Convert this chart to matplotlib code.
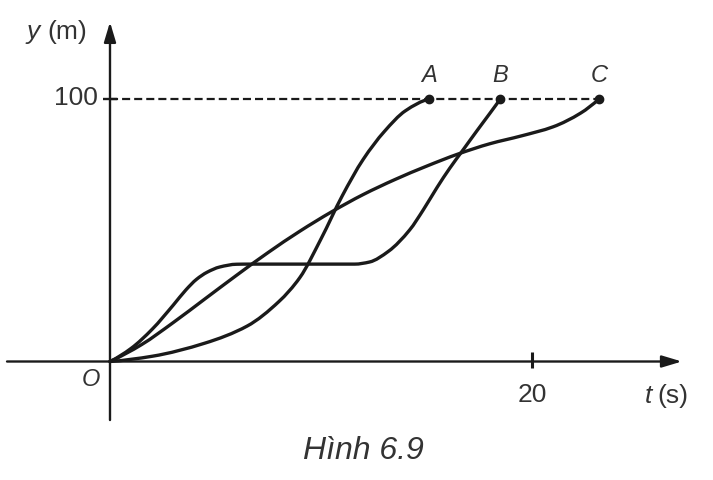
import matplotlib
matplotlib.use("Agg")
import matplotlib.pyplot as plt
import numpy as np
from matplotlib.path import Path
from matplotlib.patches import PathPatch

plt.rcParams['font.family'] = ['Liberation Sans', 'DejaVu Sans']
plt.rcParams['lines.scale_dashes'] = False

# Curve A (t in s, y in m)
tA = [0, 2.0, 4.5, 6.5, 8.0, 9.0, 10.0, 11.0, 12.0, 13.0, 14.0, 15.12]
yA = [0, 2.0, 7.0, 13.5, 22.8, 32.0, 46.7, 63.0, 77.0, 87.6, 95.5, 100]

# Curve B
tB = [0, 1.0, 2.0, 3.0, 3.6, 4.1, 4.6, 5.2, 6.0, 6.6, 11.6, 12.3, 13.2,
      14.2, 14.85, 15.5, 16.1, 16.75, 17.4, 18.0, 18.5]
yB = [0, 5.0, 12.3, 21.5, 27.3, 31.3, 34.0, 36.0, 37.05, 37.1, 37.1, 37.9,
      42.0, 50.1, 57.8, 66.3, 73.6, 80.8, 88.0, 94.5, 100]

# Curve C
tC = [0, 1.5, 3.0, 4.5, 6.0, 7.5, 9.0, 10.5, 12.0, 13.5, 15.0, 16.5,
      18.0, 19.5, 21.0, 22.3, 23.18]
yC = [0, 6.45, 14.85, 23.85, 32.85, 41.55, 49.65, 57.0, 63.6, 69.3, 74.4,
      79.05, 82.95, 85.95, 89.4, 94.6, 100]

end_labels = ['A', 'B', 'C']
y_target = 100
x_tick = 20


def pchip_slopes(x, y):
    x = np.asarray(x, float)
    y = np.asarray(y, float)
    h = np.diff(x)
    d = np.diff(y) / h
    n = len(x)
    m = np.zeros(n)
    for k in range(1, n - 1):
        if d[k - 1] * d[k] > 0:
            w1 = 2 * h[k] + h[k - 1]
            w2 = h[k] + 2 * h[k - 1]
            m[k] = (w1 + w2) / (w1 / d[k - 1] + w2 / d[k])

    def end(h0, h1, d0, d1):
        s = ((2 * h0 + h1) * d0 - h0 * d1) / (h0 + h1)
        if np.sign(s) != np.sign(d0):
            return 0.0
        if np.sign(d0) != np.sign(d1) and abs(s) > 3 * abs(d0):
            return 3 * d0
        return s

    m[0] = end(h[0], h[1], d[0], d[1])
    m[-1] = end(h[-1], h[-2], d[-1], d[-2])
    return m


def smooth_path(x, y):
    m = pchip_slopes(x, y)
    verts = [(x[0], y[0])]
    codes = [Path.MOVETO]
    for k in range(len(x) - 1):
        h = x[k + 1] - x[k]
        verts += [(x[k] + h / 3, y[k] + m[k] * h / 3),
                  (x[k + 1] - h / 3, y[k + 1] - m[k + 1] * h / 3),
                  (x[k + 1], y[k + 1])]
        codes += [Path.CURVE4] * 3
    return Path(verts, codes)


fig = plt.figure(figsize=(7.13, 4.80), dpi=100)
ax = fig.add_axes([0, 0, 1, 1])
ax.set_xlim(-5.213, 28.578)
ax.set_ylim(-45.14, 137.71)
ax.axis('off')

ink = '#1a1a1a'
txt = '#333333'

# axes with arrows
for xy, xyt in [((27.1, 0), (-4.88, 0)), ((0, 129.3), (0, -22.3))]:
    ax.annotate('', xy=xy, xytext=xyt,
                arrowprops=dict(arrowstyle='-|>,head_length=1.0,head_width=0.3',
                                lw=1.7, color=ink, shrinkA=0, shrinkB=0,
                                mutation_scale=12))

# ticks
ax.plot([x_tick, x_tick], [-2.5, 3.6], color=ink, lw=2.2, solid_capstyle='butt')
ax.plot([-0.33, 0.33], [y_target, y_target], color=ink, lw=1.7,
        solid_capstyle='butt')

# dashed line at y=100
ax.plot([0, tC[-1]], [y_target, y_target], color=ink, lw=1.6,
        dashes=(5.8, 2.9))

# curves
for t, y in [(tA, yA), (tB, yB), (tC, yC)]:
    ax.add_patch(PathPatch(smooth_path(t, y), fill=False, edgecolor=ink,
                           lw=2.4, capstyle='round', joinstyle='round'))

# end points
for t, y, lab in [(tA, yA, end_labels[0]), (tB, yB, end_labels[1]),
                  (tC, yC, end_labels[2])]:
    ax.plot(t[-1], y[-1], 'o', color=ink, ms=6)
    ax.text(t[-1], 109.1, lab, ha='center', va='center', fontsize=17,
            style='italic', color=txt)

# labels
ax.text(-0.57, 100.5, '100', ha='right', va='center', fontsize=19, color=txt)
ax.text(20, -12.8, '20', ha='center', va='center', fontsize=19, color=txt)
ax.text(-0.9, -7.0, 'O', ha='center', va='center', fontsize=17,
        style='italic', color=txt)
ax.text(-3.95, 125.5, 'y', ha='left', va='center', fontsize=19,
        style='italic', color=txt)
ax.text(-2.95, 125.5, '(m)', ha='left', va='center', fontsize=19, color=txt)
ax.text(25.36, -13.2, 't', ha='left', va='center', fontsize=19,
        style='italic', color=txt)
ax.text(25.95, -13.2, '(s)', ha='left', va='center', fontsize=19, color=txt)
ax.text(11.99, -34.1, 'Hình 6.9', ha='center', va='center', fontsize=23,
        style='italic', color=txt)

fig.savefig('out.png', dpi=100)
